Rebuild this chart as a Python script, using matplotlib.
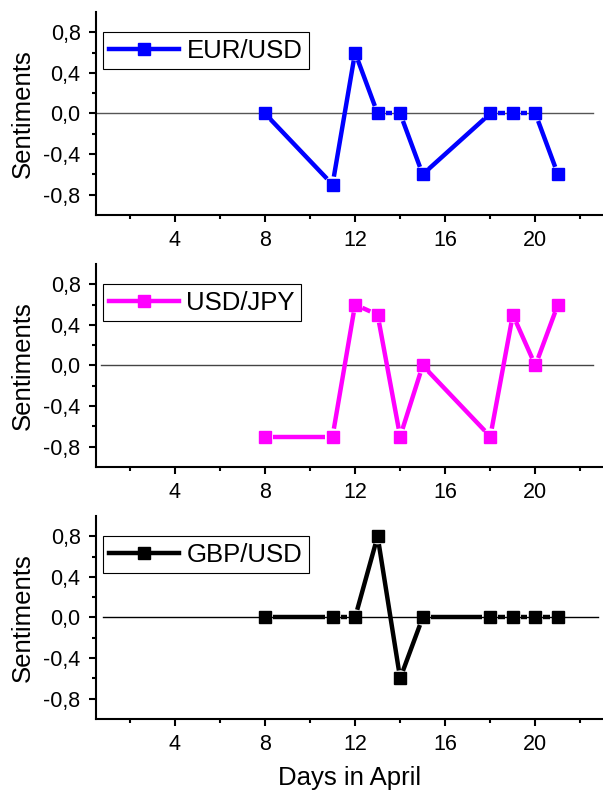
import numpy as np
import matplotlib
matplotlib.use("Agg")
import matplotlib.pyplot as plt
from matplotlib.lines import Line2D
from matplotlib.ticker import FixedLocator, FuncFormatter

plt.rcParams['font.family'] = ['Liberation Sans', 'DejaVu Sans']

# data
days = [8, 11, 12, 13, 14, 15, 18, 19, 20, 21]
eur_usd = [0.0, -0.7, 0.6, 0.0, 0.0, -0.6, 0.0, 0.0, 0.0, -0.6]
usd_jpy = [-0.7, -0.7, 0.6, 0.5, -0.7, 0.0, -0.7, 0.5, 0.0, 0.6]
gbp_usd = [0.0, 0.0, 0.0, 0.8, -0.6, 0.0, 0.0, 0.0, 0.0, 0.0]

series = [
    ("EUR/USD", eur_usd, "#0000ff", "#555555", (0.0, 0.98)),
    ("USD/JPY", usd_jpy, "#ff00ff", "#444444", (0.01, 0.98)),
    ("GBP/USD", gbp_usd, "#000000", "#000000", (0.014, 0.99)),
]

fig = plt.figure(figsize=(6.03, 7.98), dpi=100)
bottoms = [0.7306, 0.4148, 0.0990]


def comma(v, pos):
    return f"{v:.1f}".replace(".", ",")


def gapped_line(ax, x, y, color, gap_px=8):
    # Origin style: segments stop short of the symbols
    trans = ax.transData
    inv = trans.inverted()
    pts = trans.transform(np.column_stack([x, y]))
    for p0, p1 in zip(pts[:-1], pts[1:]):
        d = p1 - p0
        L = np.hypot(*d)
        if L <= 2 * gap_px:
            continue
        u = d / L
        a = inv.transform(p0 + u * gap_px)
        b = inv.transform(p1 - u * gap_px)
        ax.plot([a[0], b[0]], [a[1], b[1]], color=color, lw=3.2,
                solid_capstyle='butt', zorder=3)


for (name, vals, col, zcol, zspan), b in zip(series, bottoms):
    ax = fig.add_axes([0.159, b, 0.841, 0.2544])
    ax.set_xlim(0.5, 23)
    ax.set_ylim(-1.0, 1.0)
    for s in ['top', 'right']:
        ax.spines[s].set_visible(False)
    for s in ['left', 'bottom']:
        ax.spines[s].set_linewidth(1.5)

    ax.axhline(0, xmin=zspan[0], xmax=zspan[1], color=zcol, lw=1.0, zorder=1)

    gapped_line(ax, days, vals, col)
    ax.plot(days, vals, ls='none', marker='s', ms=8, color=col, zorder=4)

    ax.xaxis.set_major_locator(FixedLocator([4, 8, 12, 16, 20]))
    ax.xaxis.set_minor_locator(FixedLocator([2, 6, 10, 14, 18, 22]))
    ax.yaxis.set_major_locator(FixedLocator([-0.8, -0.4, 0.0, 0.4, 0.8]))
    ax.yaxis.set_minor_locator(FixedLocator([-0.6, -0.2, 0.2, 0.6]))
    ax.yaxis.set_major_formatter(FuncFormatter(comma))
    ax.tick_params(which='major', direction='out', length=5, width=1.5,
                   labelsize=15.5, pad=6)
    ax.tick_params(which='minor', direction='out', length=3, width=1.5)
    ax.set_ylabel("Sentiments", fontsize=18.5, labelpad=6)

    handle = Line2D([], [], color=col, lw=3.2, marker='s', ms=8)
    leg = ax.legend([handle], [name], loc='upper left',
                    bbox_to_anchor=(0.014, 0.90), borderaxespad=0,
                    fontsize=18.5, fancybox=False, framealpha=1,
                    edgecolor='black', borderpad=0.25, handlelength=2.7,
                    handletextpad=0.3, numpoints=1)
    leg.get_frame().set_linewidth(0.8)

ax.set_xlabel("Days in April", fontsize=18.5, labelpad=8)

fig.savefig("out.png", dpi=100)
